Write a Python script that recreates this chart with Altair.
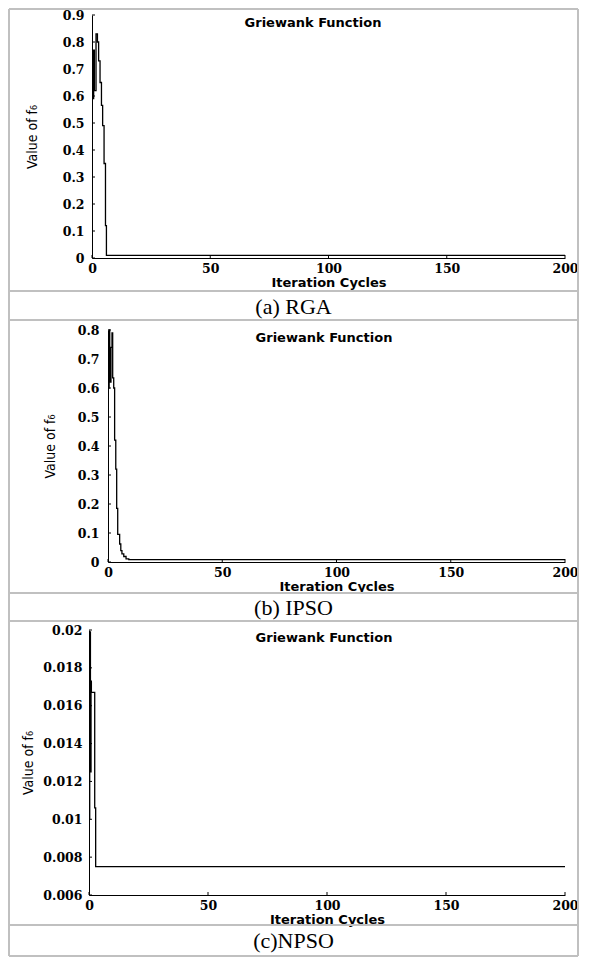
import altair as alt
import pandas as pd

# ---------------- data ----------------
x_ticks = [0, 50, 100, 150, 200]
chart_title = "Griewank Function"
x_title = "Iteration Cycles"
y_title = "Value of f\u2086"
captions = ["(a) RGA", "(b) IPSO", "(c)NPSO"]

rga_iter = [0.4, 0.7, 1.0, 1.7, 2.3, 2.8, 3.4, 4.0, 4.5, 5.1, 5.7, 6.1, 200]
rga_val = [0.59, 0.77, 0.62, 0.83, 0.80, 0.73, 0.65, 0.565, 0.49, 0.35, 0.12, 0.01, 0.01]
rga_yticks = [0, 0.1, 0.2, 0.3, 0.4, 0.5, 0.6, 0.7, 0.8, 0.9]

ipso_iter = [0.3, 0.5, 0.75, 1.3, 1.75, 2.05, 2.5, 2.9, 3.4, 3.8, 4.25, 5.1, 5.6, 6.1, 6.9, 7.9, 9.1, 200]
ipso_val = [0.60, 0.80, 0.62, 0.74, 0.79, 0.635, 0.60, 0.42, 0.32, 0.185, 0.095, 0.062, 0.039, 0.028, 0.019, 0.011, 0.008, 0.008]
ipso_yticks = [0, 0.1, 0.2, 0.3, 0.4, 0.5, 0.6, 0.7, 0.8]

npso_iter = [0.15, 0.3, 0.6, 0.85, 1.0, 2.4, 2.8, 200]
npso_val = [0.010, 0.0199, 0.0125, 0.0173, 0.0167, 0.0106, 0.0075, 0.0075]
npso_yticks = [0.006, 0.008, 0.01, 0.012, 0.014, 0.016, 0.018, 0.02]

# ---------------- layout (page pixels) ----------------
GRAY = "#c0c0c0"
LEFT_EDGE = 10      # centre of the left table border
RIGHT_EDGE = 579    # centre of the right table border
ORIGIN = 90         # common plot-area origin of the three panels
PLOT_RIGHT = 566
W = PLOT_RIGHT - ORIGIN
AX_EXT = 40


def panel(iters, vals, yticks, ydomain, caption, L, H, tm, sep, cap,
          ytitle_pad, ylabel_pad, title_cx, last):
    dx = L - ORIGIN
    df = pd.DataFrame({"iter": iters, "val": vals})
    xs = alt.Scale(domain=[0, 200], range=[dx, W], nice=False, zero=False)
    ys = alt.Scale(domain=ydomain, nice=False, zero=False)

    x_axis = alt.Axis(values=x_ticks, title=x_title, labelPadding=4,
                      titleFont="DejaVu Sans", titleFontWeight="bold",
                      titleFontSize=13, titlePadding=2)
    y_axis = alt.Axis(values=yticks, format="~g", title=y_title,
                      labelPadding=ylabel_pad, offset=-dx,
                      titleFont="Liberation Sans Narrow, DejaVu Sans Condensed, sans-serif",
                      titleFontWeight="normal", titleFontSize=14,
                      titlePadding=ytitle_pad, minExtent=AX_EXT, maxExtent=AX_EXT)

    line = alt.Chart(df).mark_line(interpolate="step-after", color="black",
                                   strokeWidth=1.3).encode(
        x=alt.X("iter:Q", scale=xs, axis=x_axis),
        y=alt.Y("val:Q", scale=ys, axis=y_axis),
    )

    xt = alt.Chart(pd.DataFrame({"iter": x_ticks})).mark_rule(
        color="black", strokeWidth=1).encode(
        x=alt.X("iter:Q", scale=xs, axis=x_axis),
        y=alt.value(H - 3), y2=alt.value(H))
    yt = alt.Chart(pd.DataFrame({"val": yticks})).mark_rule(
        color="black", strokeWidth=1).encode(
        y=alt.Y("val:Q", scale=ys, axis=y_axis),
        x=alt.value(dx), x2=alt.value(dx + 3))

    one = alt.Data(values=[{"k": 1}])
    lx = LEFT_EDGE - ORIGIN
    rx = RIGHT_EDGE - ORIGIN
    bottom_y = H + sep + cap
    rule = dict(color=GRAY, strokeWidth=2)
    deco = [
        alt.Chart(one).mark_rule(**rule).encode(
            x=alt.value(lx), x2=alt.value(rx), y=alt.value(-tm)),
        alt.Chart(one).mark_rule(**rule).encode(
            x=alt.value(lx), x2=alt.value(rx), y=alt.value(H + sep)),
        alt.Chart(one).mark_rule(**rule).encode(
            x=alt.value(lx), y=alt.value(-tm), y2=alt.value(bottom_y)),
        alt.Chart(one).mark_rule(**rule).encode(
            x=alt.value(rx), y=alt.value(-tm), y2=alt.value(bottom_y)),
    ]
    if last:
        deco.append(alt.Chart(one).mark_rule(**rule).encode(
            x=alt.value(lx), x2=alt.value(rx), y=alt.value(bottom_y)))

    title_txt = alt.Chart(one).mark_text(
        font="DejaVu Sans", fontWeight="bold", fontSize=13, color="black",
        align="center", baseline="alphabetic").encode(
        x=alt.value(title_cx - ORIGIN), y=alt.value(12), text=alt.value(chart_title))
    cap_txt = alt.Chart(one).mark_text(
        font="Liberation Serif", fontSize=22, color="black",
        align="center", baseline="middle").encode(
        x=alt.value((LEFT_EDGE + RIGHT_EDGE) / 2 - ORIGIN),
        y=alt.value(H + sep + cap / 2), text=alt.value(caption))

    layers = [line, xt, yt] + deco + [title_txt, cap_txt]
    return alt.layer(*layers).properties(width=W, height=H)


p1 = panel(rga_iter, rga_val, rga_yticks, [0, 0.9], captions[0],
           L=93, H=243, tm=6, sep=33, cap=31, ytitle_pad=13, ylabel_pad=8,
           title_cx=314, last=False)
p2 = panel(ipso_iter, ipso_val, ipso_yticks, [0, 0.8], captions[1],
           L=109, H=232, tm=10, sep=31, cap=30, ytitle_pad=11, ylabel_pad=9,
           title_cx=325, last=False)
p3 = panel(npso_iter, npso_val, npso_yticks, [0.006, 0.02], captions[2],
           L=90, H=265, tm=9, sep=30, cap=31, ytitle_pad=14, ylabel_pad=7,
           title_cx=325, last=True)

chart = alt.vconcat(p1, p2, p3, spacing=-4).properties(
    padding=0, background="white"
).configure_view(strokeWidth=0).configure_axis(
    domainColor="black", domainWidth=1, ticks=False, tickSize=0, grid=False,
    labelFont="DejaVu Serif", labelFontWeight="bold", labelFontSize=12.5,
    labelColor="black", labelFlush=False, titleColor="black",
)

chart.save("out.html", embed_options={"renderer": "svg", "actions": False})
